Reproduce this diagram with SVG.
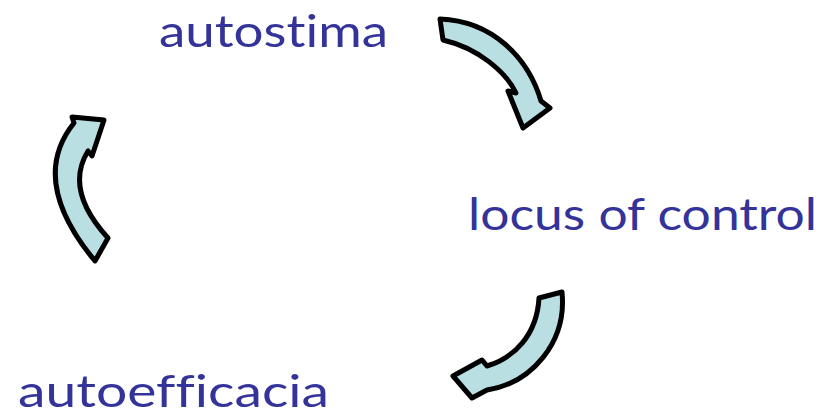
<svg xmlns="http://www.w3.org/2000/svg" width="829" height="415" viewBox="0 0 829 415">
<style>
.lbl{font-family:"Lato","Liberation Sans",Arial,sans-serif;font-size:44px;fill:#333399;font-variant-ligatures:none;font-feature-settings:"liga" 0}
.arr{fill:#b9dfe3;stroke:#000;stroke-width:5;stroke-linejoin:round}
</style>
<rect width="829" height="415" fill="#fff"/>
<g id="n-autostima"><text class="lbl" x="159" y="47" textLength="229" lengthAdjust="spacingAndGlyphs">autostima</text></g>
<g id="n-locus"><text class="lbl" x="468" y="230" textLength="349" lengthAdjust="spacingAndGlyphs">locus of control</text></g>
<g id="n-autoefficacia"><text class="lbl" x="18" y="407" textLength="311" lengthAdjust="spacingAndGlyphs">autoefficacia</text></g>
<g id="connectors">
<path class="arr" d="M440,19 C492,21 528,57 541,101 L550,108 L523,128 L508,91 L516,93 C506,72 478,48 443,40 Z"/>
<path class="arr" d="M539,298 L562,292 C567,342 532,383 487,390 L472,398 L453,376 L482,360 L487,366 C514,358 537,335 539,298 Z"/>
<path class="arr" d="M95,261 Q28,180 74,123 L72,117 L104,120 L92,156 L88,151 Q64,190 108,238 Z"/>
</g>
</svg>
